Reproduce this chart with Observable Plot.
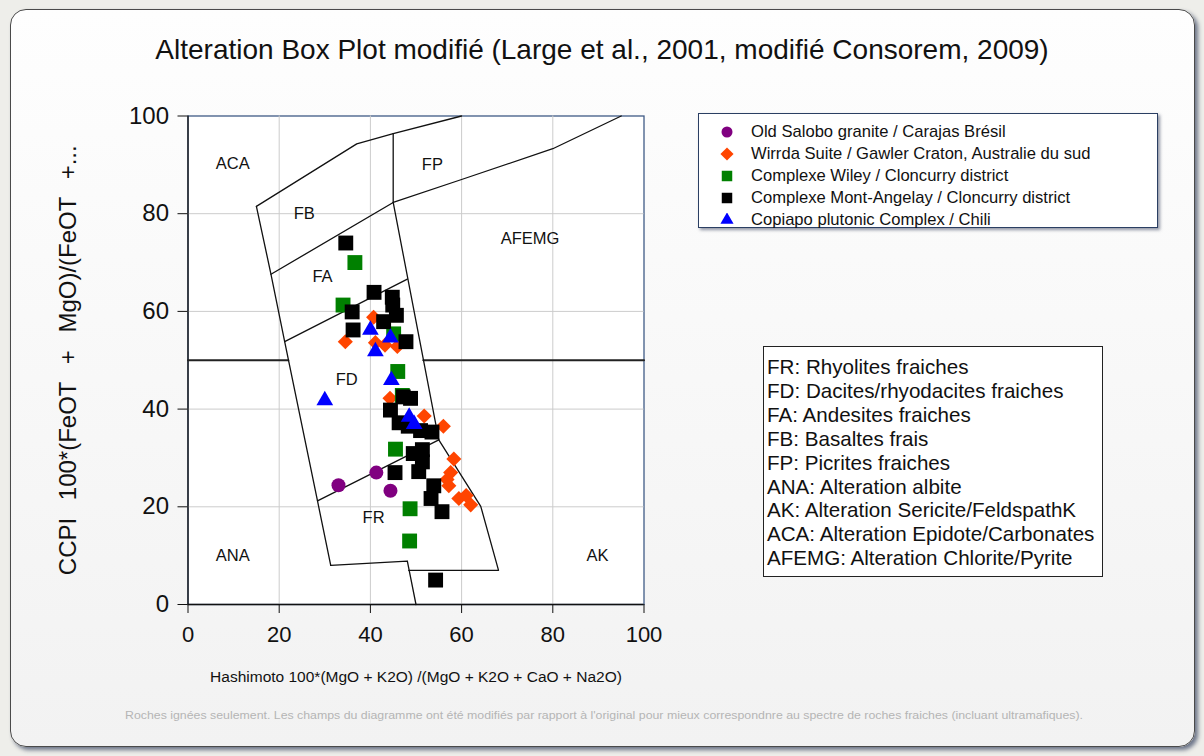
<!DOCTYPE html>
<html><head><meta charset="utf-8">
<script src="https://cdn.jsdelivr.net/npm/d3@7"></script>
<script src="https://cdn.jsdelivr.net/npm/@observablehq/plot@0.6"></script>
<style>
body{margin:0;width:1204px;height:756px;background:#eeeeea;font-family:"Liberation Sans",Arial,sans-serif;position:relative;overflow:hidden;color:#111}
#panel{position:absolute;left:10px;top:9px;width:1185px;height:738px;border:1.5px solid #4a4a4a;border-radius:16px;background:linear-gradient(#fefefe,#f2f2f2);box-shadow:3px 3px 4px rgba(20,35,70,.6);box-sizing:border-box}
#title{position:absolute;left:0;width:1204px;top:34px;text-align:center;font-size:28px;white-space:nowrap}
#chart{position:absolute;left:0;top:0}
#legend{position:absolute;left:698px;top:113px;width:460px;height:115px;background:#fff;border:1.3px solid #2b3f63;box-shadow:2px 2px 3px rgba(40,50,80,.5);box-sizing:border-box}
.lrow{position:absolute;left:0;height:22px;line-height:22px;font-size:16.6px;white-space:nowrap}
.lrow svg{position:absolute;left:21px;top:4px}
.lrow span{position:absolute;left:52px;top:0}
#fields{position:absolute;left:763px;top:346px;width:340px;height:231px;background:#fff;border:1.5px solid #222;box-sizing:border-box;padding:8px 0 0 3px;font-size:20.6px;line-height:23.9px;white-space:nowrap;letter-spacing:0px}
#foot{position:absolute;left:125px;top:709px;font-size:11px;color:#b5b5b5;white-space:nowrap;transform-origin:0 0}
</style></head>
<body>
<div id="panel"></div>
<div id="title">Alteration Box Plot modifié (Large et al., 2001, modifié Consorem, 2009)</div>
<div id="chart"></div>
<div id="legend"></div>
<div id="fields"></div>
<div id="foot">Roches ignées seulement. Les champs du diagramme ont été modifiés par rapport à l'original pour mieux correspondnre au spectre de roches fraiches (incluant ultramafiques).</div>
<script>
// ---- data ----
const xTicks = [0, 20, 40, 60, 80, 100];
const yTicks = [0, 20, 40, 60, 80, 100];
const xLabel = "Hashimoto 100*(MgO + K2O) /(MgO + K2O + CaO + Na2O)";
const yLabel = "CCPI 100*(FeOT + MgO)/(FeOT +...";

const seriesNames = [
  "Old Salobo granite / Carajas Brésil",
  "Wirrda Suite / Gawler Craton, Australie du sud",
  "Complexe Wiley / Cloncurry district",
  "Complexe Mont-Angelay / Cloncurry district",
  "Copiapo plutonic Complex / Chili"
];
const seriesColors = ["#800080", "#ff4500", "#008000", "#000000", "#0000ff"];
const seriesSymbols = ["circle", "diamond2", "square", "square", "triangle"];

const oldSalobo = [[33, 24.4], [41.3, 27], [44.4, 23.3]];
const wirrda = [[40.7, 58.8], [34.5, 53.8], [41.1, 53.6], [43.2, 53.1], [45.9, 52.8], [44.3, 42.2],
  [51.8, 38.6], [56, 36.5], [58.3, 29.8], [57.6, 27], [56.8, 25.6], [57.2, 24.3], [59.4, 21.7],
  [61, 22.3], [62, 20.4]];
const wiley = [[36.6, 70], [34, 61.3], [45.1, 55.4], [46, 47.7], [47, 42.8], [45.5, 31.8], [48.7, 19.6], [48.6, 13]];
const montAngelay = [[34.6, 74], [40.8, 63.9], [44.8, 62.9], [44.9, 61.3], [36, 59.9], [45.7, 59.2],
  [42.9, 57.9], [36.2, 56.2], [47.8, 53.8], [47.2, 42.5], [48.8, 42.2], [44.4, 39.8], [46.3, 37.2],
  [48.3, 36.5], [51, 35.6], [53.5, 35.3], [51.4, 31.7], [49.4, 30.9], [51.4, 29.2], [50.6, 27.2],
  [45.4, 27], [53.9, 24.3], [53.3, 21.7], [55.7, 19], [54.3, 5]];
const copiapo = [[40, 56.2], [44.4, 54.6], [41.1, 51.8], [44.6, 45.9], [30, 41.8], [48.5, 38.4], [49.6, 36.9]];
const seriesData = [oldSalobo, wirrda, wiley, montAngelay, copiapo];

// field boundaries (data coordinates)
const fieldBoundaries = [
  [[15, 81.5], [37, 94.3], [45, 96.4], [60, 100]],
  [[15, 81.5], [18.2, 67.6], [21.2, 53.8], [28.4, 21.2], [31.3, 8]],
  [[31.3, 8], [48.1, 8.9], [50, 0]],
  [[48.4, 7], [68.1, 7], [64.2, 20.1], [55, 33.7]],
  [[45, 82.3], [55, 33.7]],
  [[18.2, 67.6], [45, 82.3]],
  [[21.2, 53.8], [48.1, 66.6]],
  [[28.4, 21.2], [55, 33.7]],
  [[45, 96.4], [45, 82.3]],
  [[45, 82.3], [60, 87], [80, 93.3], [95, 100]]
];
const line50 = [[[0, 50], [22, 50]], [[51.6, 50], [100, 50]]];

const fieldNames = ["ACA", "FB", "FP", "AFEMG", "FA", "FD", "FR", "ANA", "AK"];
const fieldX = [9.8, 25.5, 53.6, 75, 29.5, 34.8, 40.7, 9.8, 89.8];
const fieldY = [90.3, 80, 90, 74.9, 67.2, 46, 17.8, 10, 10];

const fieldDescriptions = [
  "FR: Rhyolites fraiches",
  "FD: Dacites/rhyodacites fraiches",
  "FA: Andesites fraiches",
  "FB: Basaltes frais",
  "FP: Picrites fraiches",
  "ANA: Alteration albite",
  "AK: Alteration Sericite/FeldspathK",
  "ACA: Alteration Epidote/Carbonates",
  "AFEMG: Alteration Chlorite/Pyrite"
];

// ---- chart ----
const boundaryRows = fieldBoundaries.flatMap((seg, i) => seg.map(p => ({x: p[0], y: p[1], id: i})));
const line50Rows = line50.flatMap((seg, i) => seg.map(p => ({x: p[0], y: p[1], id: i})));
const labelRows = fieldNames.map((t, i) => ({t, x: fieldX[i], y: fieldY[i]}));
const sizes = {circle: 7, diamond2: 6.8, square: 8.4, triangle: 6.2};

const chart = Plot.plot({
  width: 680, height: 720,
  marginLeft: 187.5, marginRight: 36.5, marginTop: 115.5, marginBottom: 116,
  x: {domain: [0, 100]}, y: {domain: [0, 100]},
  style: {background: "transparent", fontFamily: "'Liberation Sans', Arial, sans-serif", color: "#111"},
  marks: [
    Plot.frame({fill: "white", stroke: "#3f5b86", strokeWidth: 1.3}),
    Plot.gridX({ticks: xTicks.slice(1, -1), stroke: "#cccccc", strokeOpacity: 1}),
    Plot.gridY({ticks: yTicks.slice(1, -1), stroke: "#cccccc", strokeOpacity: 1}),
    Plot.ruleX([0], {stroke: "#111", strokeWidth: 1.3}),
    Plot.ruleY([0], {stroke: "#111", strokeWidth: 1.3}),
    Plot.axisY({ticks: yTicks, tickSize: 10, tickPadding: 9, fontSize: 24, label: null}),
    Plot.axisX({ticks: xTicks, tickSize: 9, tickPadding: 13, fontSize: 22, label: null}),
    Plot.line(line50Rows, {x: "x", y: "y", z: "id", stroke: "#222", strokeWidth: 2}),
    Plot.line(boundaryRows, {x: "x", y: "y", z: "id", stroke: "#111", strokeWidth: 1.3}),
    Plot.text(labelRows, {x: "x", y: "y", text: "t", fontSize: 16.5, fill: "#111"}),
    ...seriesData.map((d, i) => Plot.dot(d, {
      x: p => p[0], y: p => p[1], symbol: seriesSymbols[i], r: sizes[seriesSymbols[i]],
      fill: seriesColors[i], stroke: "none"
    })),
    Plot.text([xLabel], {frameAnchor: "bottom", dy: 73, lineAnchor: "middle", textAnchor: "middle", fontSize: 15.5, fill: "#111"}),
    Plot.text([yLabel], {frameAnchor: "left", dx: -120, rotate: -90, lineAnchor: "middle", textAnchor: "middle", fontSize: 24, fill: "#111"})
  ]
});
document.getElementById("chart").appendChild(chart);
// widen the word gaps of the y label like the reference
chart.querySelectorAll("text").forEach(t => { if (t.textContent === yLabel) t.setAttribute("word-spacing", "11"); });

// ---- legend ----
const legend = document.getElementById("legend");
const symMap = {circle: d3.symbolCircle, diamond2: d3.symbolDiamond2, square: d3.symbolSquare, triangle: d3.symbolTriangle};
const legSize = {circle: 95, diamond2: 110, square: 110, triangle: 75};
seriesNames.forEach((name, i) => {
  const row = document.createElement("div");
  row.className = "lrow";
  row.style.top = (7 + 22 * i) + "px";
  const path = d3.symbol(symMap[seriesSymbols[i]], legSize[seriesSymbols[i]])();
  row.innerHTML = `<svg width="14" height="14" viewBox="-7 -7 14 14"><path d="${path}" fill="${seriesColors[i]}"/></svg><span>${name}</span>`;
  legend.appendChild(row);
});

// ---- field description box ----
document.getElementById("fields").innerHTML = fieldDescriptions.map(s => `<div>${s}</div>`).join("");

// ---- footnote fit ----
const foot = document.getElementById("foot");
const fw = foot.getBoundingClientRect().width;
foot.style.transform = `scaleX(${958 / fw})`;
</script>
</body></html>
